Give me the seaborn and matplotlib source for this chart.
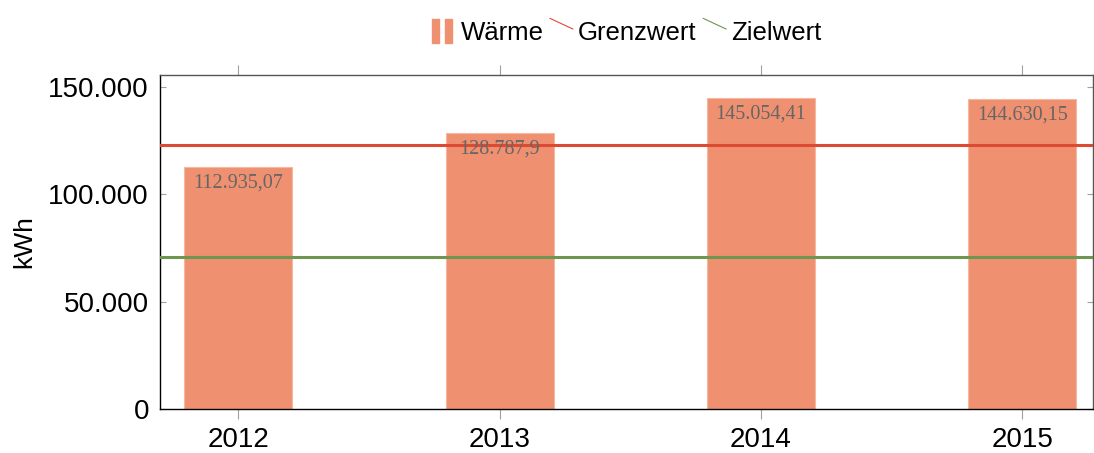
import matplotlib
matplotlib.use("Agg")
import matplotlib.pyplot as plt
import seaborn as sns
import pandas as pd
from matplotlib.lines import Line2D
from matplotlib.patches import Patch, Rectangle
from matplotlib.legend_handler import HandlerBase

# data
years = ["2012", "2013", "2014", "2015"]
waerme = [112935.07, 128787.9, 145054.41, 144630.15]
labels = ["112.935,07", "128.787,9", "145.054,41", "144.630,15"]
grenzwert = 123000
zielwert = 71000

bar_color = "#ef9070"
red = "#dc4a33"
green = "#6f9650"


# legend handles like pgfplots: two small bars, short diagonal lines
class TwoBars(HandlerBase):
    def create_artists(self, legend, orig, x0, y0, w, h, fontsize, trans):
        bw = w * 0.3
        r1 = Rectangle((x0, y0 - 0.15 * h), bw, h * 1.3, color=orig.get_facecolor(), transform=trans)
        r2 = Rectangle((x0 + w * 0.55, y0 - 0.15 * h), bw, h * 1.3, color=orig.get_facecolor(), transform=trans)
        return [r1, r2]


class Diag(HandlerBase):
    def create_artists(self, legend, orig, x0, y0, w, h, fontsize, trans):
        ln = Line2D([x0, x0 + w], [y0 + h * 1.2, y0 + h * 0.6],
                    color=orig.get_color(), lw=0.8, transform=trans)
        return [ln]


sns.set_theme(style="white")
plt.rcParams["font.family"] = ["Liberation Sans", "DejaVu Sans"]
plt.rcParams["text.color"] = "black"
plt.rcParams["axes.labelcolor"] = "black"

df = pd.DataFrame({"Jahr": years, "kWh": waerme})

fig = plt.figure(figsize=(10.94, 4.53), dpi=100)
ax = fig.add_axes([0.1463, 0.0971, 0.8527, 0.7373])

sns.barplot(data=df, x="Jahr", y="kWh", color=bar_color, saturation=1,
            width=0.413, ax=ax, edgecolor="#f4b8a2", linewidth=0.8)

ax.axhline(grenzwert, color=red, lw=2.2, zorder=3)
ax.axhline(zielwert, color=green, lw=2.2, zorder=3)

for i, (v, lab) in enumerate(zip(waerme, labels)):
    ax.text(i, v - 3300, lab, ha="center", va="top", fontsize=14.5,
            family="Liberation Serif", color="#666666", zorder=4)

ax.set_xlim(-0.30, 3.27)
ax.set_ylim(0, 155600)
ax.set_yticks([0, 50000, 100000, 150000])
ax.set_yticklabels(["0", "50.000", "100.000", "150.000"], fontsize=20)
ax.set_xticks(range(len(years)))
ax.set_xticklabels(years, fontsize=20)
ax.set_xlabel("")
ax.set_ylabel("kWh", fontsize=19, labelpad=9)

ax.tick_params(axis="x", direction="out", length=7, width=0.8, color="#a0a0a0",
               top=True, bottom=True, pad=6, labelcolor="black")
ax.tick_params(axis="y", direction="in", length=4.5, width=0.8, color="#a0a0a0",
               left=True, right=True, pad=8, labelcolor="black")
for s in ["left", "bottom"]:
    ax.spines[s].set_color("black")
    ax.spines[s].set_linewidth(1.0)
for s in ["top", "right"]:
    ax.spines[s].set_color("#555555")
    ax.spines[s].set_linewidth(1.0)

handles = [Patch(color=bar_color, label="Wärme"),
           Line2D([], [], color=red, lw=1, label="Grenzwert"),
           Line2D([], [], color=green, lw=1, label="Zielwert")]
fig.legend(handles=handles, loc="upper center", bbox_to_anchor=(0.573, 1.005),
           ncol=3, frameon=False, fontsize=18.5, handlelength=0.9,
           handletextpad=0.2, columnspacing=0.25, labelcolor="black",
           handler_map={Patch: TwoBars(), Line2D: Diag()})

fig.savefig("out.png", dpi=100)
